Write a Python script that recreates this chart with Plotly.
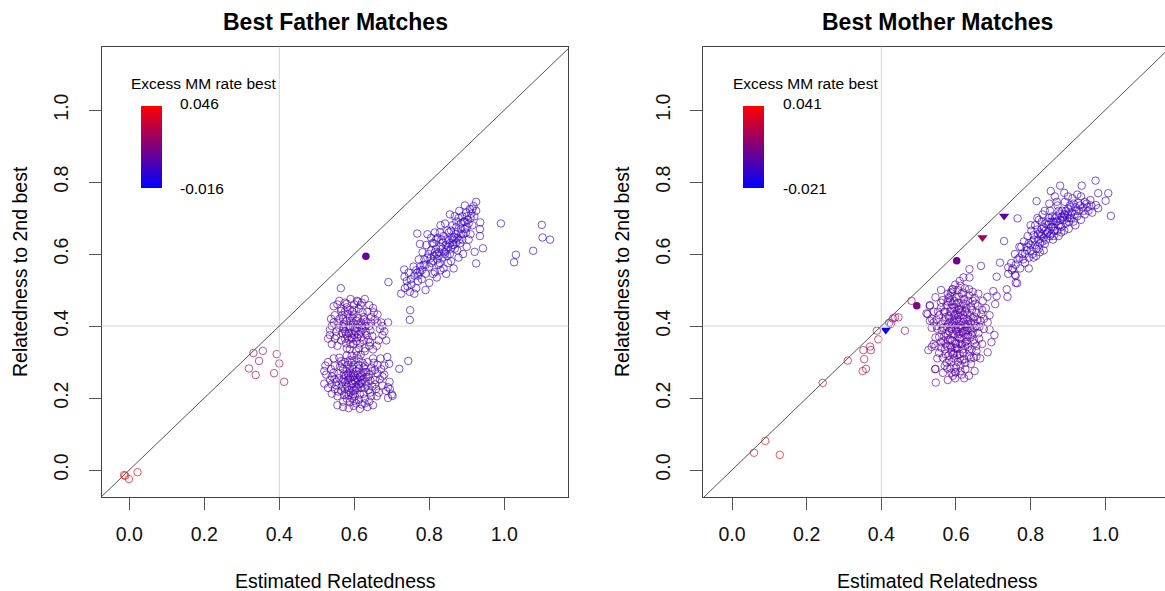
import plotly.graph_objects as go

W, H = 1165, 591

# ------------------------------------------------------------------
# Data: (estimated relatedness, relatedness to 2nd best)
# ------------------------------------------------------------------
tick_vals = [0.0, 0.2, 0.4, 0.6, 0.8, 1.0]
tick_text = ["0.0", "0.2", "0.4", "0.6", "0.8", "1.0"]

father_mm_range = [-0.016, 0.046]
mother_mm_range = [-0.021, 0.041]

# ---- Best Father Matches ----
father_red = [(-0.014, -0.014), (-0.011, -0.016), (-0.001, -0.025), (0.022, -0.006)]
father_red_mm = [0.046, 0.044, 0.045, 0.043]

father_pink = [(0.331, 0.325), (0.356, 0.331), (0.346, 0.303), (0.319, 0.282), (0.337, 0.264),
               (0.393, 0.322), (0.400, 0.296), (0.386, 0.269), (0.413, 0.245)]
father_pink_mm = [0.022, 0.021, 0.020, 0.023, 0.021, 0.019, 0.020, 0.022, 0.021]

father_low = [(0.600,0.250),(0.585,0.262),(0.612,0.238),(0.595,0.228),(0.620,0.262),(0.575,0.245),(0.630,0.245),(0.605,0.275),(0.590,0.215),(0.615,0.210),
              (0.560,0.255),(0.640,0.265),(0.570,0.280),(0.625,0.285),(0.598,0.292),(0.552,0.235),(0.648,0.232),(0.580,0.198),(0.628,0.198),(0.605,0.185),
              (0.545,0.270),(0.655,0.278),(0.565,0.220),(0.642,0.215),(0.588,0.305),(0.612,0.308),(0.535,0.250),(0.668,0.252),(0.575,0.300),(0.635,0.300),
              (0.598,0.178),(0.585,0.172),(0.620,0.182),(0.555,0.205),(0.660,0.205),(0.548,0.290),(0.662,0.292),(0.530,0.228),(0.675,0.235),(0.607,0.318),
              (0.592,0.240),(0.608,0.255),(0.618,0.228),(0.582,0.232),(0.597,0.268),(0.572,0.265),(0.632,0.272),(0.588,0.282),(0.622,0.250),(0.578,0.212),
              (0.540,0.212),(0.525,0.265),(0.685,0.220),(0.680,0.265),(0.650,0.310),(0.560,0.312),(0.570,0.190),(0.640,0.190),(0.690,0.200),(0.700,0.210),
              (0.523,0.290),(0.545,0.310),(0.555,0.180),(0.650,0.180),(0.615,0.170),(0.594,0.200),(0.603,0.222),(0.567,0.232),(0.637,0.258),(0.612,0.292),
              (0.655,0.250),(0.547,0.252),(0.583,0.250),(0.628,0.228),(0.602,0.205),(0.593,0.318),(0.520,0.240),(0.670,0.310),(0.694,0.245),(0.658,0.225),
              (0.610,0.265),(0.580,0.275),(0.625,0.212),(0.568,0.295),(0.645,0.285),(0.538,0.280),(0.672,0.280),(0.596,0.258),(0.617,0.242),(0.586,0.222),
              (0.603,0.245),(0.588,0.255),(0.618,0.270),(0.578,0.238),(0.633,0.235),(0.595,0.282),(0.608,0.228),(0.572,0.252),(0.643,0.248),(0.583,0.292),
              (0.622,0.298),(0.558,0.268),(0.662,0.268),(0.598,0.210),(0.612,0.195),(0.575,0.225),(0.638,0.222),(0.552,0.245),(0.588,0.188),(0.628,0.185),
              (0.565,0.302),(0.652,0.298),(0.540,0.260),(0.675,0.260),(0.600,0.305),(0.617,0.320),(0.580,0.318),(0.548,0.225),(0.665,0.215),(0.530,0.300),
              (0.595,0.240),(0.610,0.250),(0.590,0.270),(0.620,0.240),(0.600,0.262),(0.578,0.262),(0.632,0.258),(0.605,0.232),(0.585,0.208),(0.625,0.272),
              (0.562,0.288),(0.648,0.275),(0.557,0.218),(0.645,0.205),(0.570,0.175),(0.600,0.192),(0.635,0.175),(0.690,0.230),(0.680,0.290),(0.520,0.275),
              (0.592,0.298),(0.613,0.282),(0.568,0.245),(0.655,0.238),(0.540,0.238),(0.598,0.220),(0.615,0.258),(0.583,0.268),(0.628,0.290),(0.573,0.208)]
father_low_mm = 0.003

father_mid = [(0.600,0.390),(0.585,0.400),(0.612,0.378),(0.595,0.365),(0.620,0.402),(0.575,0.385),(0.630,0.385),(0.605,0.415),(0.590,0.350),(0.615,0.352),
              (0.560,0.395),(0.640,0.400),(0.570,0.420),(0.625,0.425),(0.598,0.432),(0.552,0.372),(0.648,0.372),(0.580,0.338),(0.628,0.338),(0.605,0.330),
              (0.545,0.410),(0.655,0.418),(0.565,0.360),(0.642,0.355),(0.588,0.445),(0.612,0.448),(0.535,0.390),(0.668,0.392),(0.575,0.440),(0.635,0.440),
              (0.600,0.460),(0.580,0.462),(0.620,0.465),(0.555,0.345),(0.660,0.345),(0.548,0.430),(0.662,0.432),(0.530,0.365),(0.675,0.375),(0.607,0.470),
              (0.592,0.380),(0.608,0.395),(0.618,0.368),(0.582,0.372),(0.597,0.408),(0.572,0.405),(0.632,0.412),(0.588,0.422),(0.622,0.390),(0.578,0.352),
              (0.540,0.350),(0.565,0.448),(0.640,0.458),(0.685,0.360),(0.690,0.410),(0.650,0.335),(0.590,0.475),(0.560,0.470),(0.628,0.475),(0.545,0.455),
              (0.610,0.405),(0.580,0.415),(0.625,0.360),(0.568,0.430),(0.645,0.425),(0.538,0.420),(0.672,0.410),(0.596,0.398),(0.617,0.382),(0.586,0.362),
              (0.603,0.385),(0.588,0.395),(0.618,0.410),(0.578,0.378),(0.633,0.375),(0.595,0.422),(0.608,0.368),(0.572,0.392),(0.643,0.388),(0.583,0.432),
              (0.622,0.438),(0.558,0.408),(0.662,0.408),(0.598,0.350),(0.612,0.338),(0.575,0.365),(0.638,0.362),(0.552,0.385),(0.588,0.335),(0.628,0.330),
              (0.565,0.442),(0.652,0.438),(0.540,0.400),(0.675,0.400),(0.600,0.445),(0.617,0.458),(0.580,0.452),(0.548,0.365),(0.665,0.360),(0.600,0.375),
              (0.590,0.410),(0.610,0.422),(0.620,0.395),(0.585,0.380),(0.630,0.400),(0.570,0.398),(0.595,0.440),(0.605,0.358),(0.560,0.420),(0.645,0.410),
              (0.575,0.465),(0.610,0.468),(0.535,0.375),(0.680,0.385),(0.555,0.460),(0.650,0.450),(0.592,0.368),(0.625,0.418),(0.568,0.380),(0.640,0.345)]
father_mid_mm = 0.004

father_high = [(0.725,0.490),(0.735,0.505),(0.748,0.495),(0.740,0.525),(0.752,0.515),(0.760,0.540),(0.745,0.548),(0.765,0.505),(0.770,0.525),(0.758,0.565),
               (0.775,0.550),(0.780,0.530),(0.785,0.570),(0.772,0.585),(0.790,0.545),(0.795,0.590),(0.782,0.605),(0.800,0.565),(0.805,0.610),(0.792,0.625),
               (0.810,0.580),(0.815,0.550),(0.812,0.630),(0.820,0.600),(0.825,0.570),(0.822,0.645),(0.830,0.620),(0.835,0.590),(0.828,0.660),(0.840,0.605),
               (0.845,0.640),(0.838,0.560),(0.850,0.620),(0.848,0.665),(0.855,0.600),(0.860,0.645),(0.858,0.580),(0.865,0.625),(0.862,0.680),(0.870,0.655),
               (0.875,0.610),(0.872,0.690),(0.880,0.640),(0.885,0.670),(0.878,0.590),(0.890,0.655),(0.895,0.690),(0.888,0.705),(0.900,0.675),(0.905,0.640),
               (0.898,0.715),(0.910,0.700),(0.915,0.680),(0.908,0.725),(0.920,0.705),(0.925,0.745),(0.918,0.733),(0.936,0.688),(0.935,0.650),(0.935,0.669),
               (0.943,0.616),(0.925,0.574),(0.921,0.606),(0.800,0.520),(0.810,0.545),(0.830,0.555),(0.850,0.575),(0.820,0.535),(0.790,0.500),(0.760,0.490),
               (0.842,0.685),(0.830,0.680),(0.815,0.660),(0.805,0.645),(0.795,0.655),(0.868,0.705),(0.855,0.710),(0.880,0.720),(0.895,0.735),(0.910,0.655),
               (0.900,0.620),(0.890,0.600),(0.865,0.560),(0.845,0.545),(0.812,0.595),(0.826,0.605),(0.836,0.632),(0.852,0.638),(0.866,0.648),(0.876,0.662),
               (0.803,0.588),(0.818,0.615),(0.844,0.625),(0.858,0.615),(0.872,0.632),(0.884,0.685),(0.898,0.660),(0.787,0.585),(0.776,0.565),(0.768,0.548),
               (0.768,0.657),(0.775,0.628),
               (0.805,0.575),(0.815,0.605),(0.825,0.595),(0.835,0.615),(0.845,0.610),(0.855,0.630),(0.865,0.640),(0.875,0.645),(0.885,0.655),(0.895,0.670),
               (0.822,0.585),(0.832,0.640),(0.842,0.600),(0.852,0.660),(0.862,0.625),(0.872,0.675),(0.882,0.630),(0.892,0.690),(0.902,0.695),(0.912,0.712),
               (0.790,0.570),(0.780,0.555),(0.770,0.540),(0.798,0.600),(0.808,0.630),(0.828,0.575),(0.848,0.595),(0.868,0.615),(0.888,0.640),(0.905,0.685),
               (0.750,0.530),(0.742,0.510),(0.765,0.555),(0.818,0.640),(0.838,0.650),(0.858,0.665),(0.878,0.700),(0.900,0.705),(0.915,0.725),(0.925,0.720)]
father_high_mm = -0.002

father_stray = [(0.564,0.505),(0.691,0.522),(0.733,0.557),(0.734,0.537),(0.749,0.444),(0.748,0.417),(0.744,0.303),(0.720,0.281),
                (0.688,0.314),(0.693,0.295),(0.702,0.206),(0.695,0.225),
                (1.100,0.681),(1.102,0.646),(1.122,0.640),(1.077,0.609),(1.031,0.598),(1.026,0.577),(0.991,0.685)]
father_stray_mm = -0.004

father_solid = [(0.631, 0.594)]
father_solid_mm = [0.010]

# ---- Best Mother Matches ----
mother_low = [(0.059,0.048),(0.089,0.081),(0.128,0.042),(0.243,0.242),(0.310,0.304),
              (0.352,0.333),(0.370,0.343),(0.372,0.333),(0.354,0.308),(0.350,0.275),(0.359,0.281),
              (0.388,0.387),(0.392,0.363),(0.421,0.409),(0.431,0.421),(0.437,0.424),(0.446,0.424),
              (0.426,0.406),(0.463,0.387),(0.481,0.470)]
mother_low_mm = [0.041,0.039,0.040,0.034,0.027,
                 0.024,0.022,0.021,0.025,0.026,0.024,
                 0.023,0.024,0.014,0.016,0.015,0.017,
                 0.013,0.022,0.017]

mother_blob = [(0.598,0.272),(0.585,0.283),(0.612,0.290),(0.625,0.280),(0.575,0.298),(0.605,0.300),(0.640,0.295),(0.592,0.262),
               (0.565,0.312),(0.580,0.318),(0.595,0.310),(0.610,0.322),(0.622,0.308),(0.635,0.318),(0.648,0.312),(0.655,0.330),(0.570,0.335),(0.588,0.328),(0.602,0.340),(0.618,0.335),(0.632,0.342),(0.555,0.325),
               (0.560,0.355),(0.572,0.350),(0.585,0.362),(0.598,0.352),(0.610,0.365),(0.625,0.355),(0.638,0.368),(0.650,0.352),(0.662,0.365),(0.545,0.368),(0.578,0.375),(0.592,0.378),(0.605,0.372),(0.618,0.380),(0.632,0.375),(0.645,0.382),(0.568,0.372),(0.655,0.345),
               (0.550,0.392),(0.562,0.388),(0.575,0.398),(0.588,0.392),(0.600,0.402),(0.612,0.395),(0.625,0.405),(0.638,0.395),(0.650,0.408),(0.663,0.398),(0.675,0.392),(0.540,0.410),(0.570,0.415),(0.583,0.410),(0.596,0.418),(0.608,0.412),(0.620,0.420),(0.633,0.415),(0.645,0.422),(0.658,0.418),
               (0.555,0.430),(0.568,0.438),(0.580,0.428),(0.593,0.440),(0.605,0.432),(0.617,0.442),(0.630,0.435),(0.643,0.445),(0.655,0.438),(0.668,0.432),(0.560,0.452),(0.575,0.458),(0.588,0.450),(0.600,0.460),(0.613,0.455),(0.626,0.462),(0.640,0.455),(0.652,0.462),
               (0.565,0.472),(0.580,0.478),(0.595,0.470),(0.608,0.482),(0.622,0.475),(0.636,0.485),(0.650,0.478),(0.590,0.495),(0.605,0.500),(0.620,0.492),(0.578,0.490),(0.635,0.502),(0.612,0.512),(0.598,0.515),
               (0.530,0.458),(0.524,0.433),(0.530,0.415),(0.548,0.417),(0.526,0.333),(0.535,0.342),(0.545,0.281),(0.546,0.243),(0.599,0.271),(0.577,0.282),(0.544,0.280),(0.615,0.265),(0.703,0.375),(0.685,0.327),(0.591,0.502),(0.521,0.435),
               (0.680,0.450),(0.672,0.470),(0.660,0.490),(0.545,0.480),(0.535,0.395),(0.540,0.350),(0.665,0.310),(0.670,0.350),(0.685,0.410),(0.690,0.430),
               (0.603,0.385),(0.615,0.392),(0.590,0.405),(0.627,0.398),(0.582,0.385),(0.607,0.425),(0.620,0.430),(0.595,0.428),(0.630,0.388),(0.612,0.350),(0.597,0.338),(0.625,0.345),(0.585,0.345),
               (0.640,0.408),(0.572,0.425),(0.608,0.445),(0.585,0.468),(0.628,0.450),(0.650,0.425),(0.560,0.405),(0.603,0.320),(0.588,0.300),(0.617,0.305),(0.642,0.335),(0.572,0.322),
               (0.600,0.390),(0.612,0.402),(0.588,0.398),(0.625,0.388),(0.595,0.375),(0.608,0.378),(0.620,0.412),(0.580,0.405),(0.632,0.405),(0.603,0.418),
               (0.590,0.360),(0.615,0.365),(0.628,0.370),(0.578,0.360),(0.640,0.390),(0.565,0.395),(0.650,0.395),(0.598,0.432),(0.612,0.438),(0.585,0.440),
               (0.625,0.440),(0.570,0.440),(0.638,0.430),(0.600,0.350),(0.588,0.340),(0.620,0.325),(0.635,0.332),(0.575,0.345),(0.648,0.360),(0.560,0.340),
               (0.605,0.465),(0.590,0.460),(0.620,0.462),(0.632,0.470),(0.578,0.468),(0.645,0.470),(0.560,0.465),(0.600,0.480),(0.615,0.490),(0.585,0.482),
               (0.595,0.325),(0.610,0.310),(0.582,0.305),(0.625,0.298),(0.570,0.290),(0.600,0.285),(0.612,0.275),(0.588,0.270),(0.640,0.310),(0.655,0.315),
               (0.660,0.380),(0.665,0.415),(0.670,0.445),(0.658,0.455),(0.675,0.420),(0.548,0.400),(0.552,0.440),(0.545,0.345),(0.555,0.370),(0.550,0.310),
               (0.606,0.396),(0.594,0.412),(0.618,0.385),(0.582,0.420),(0.630,0.420),(0.608,0.448),(0.596,0.452),(0.572,0.380),(0.642,0.375),(0.604,0.336),
               (0.616,0.350),(0.592,0.322),(0.628,0.358),(0.566,0.358),(0.654,0.400),(0.586,0.492),(0.624,0.505),(0.610,0.525),(0.598,0.255),(0.578,0.250),
               (0.635,0.262),(0.622,0.255),(0.565,0.270),(0.650,0.275),(0.690,0.390),(0.695,0.355),(0.540,0.440),(0.535,0.420),(0.560,0.500),(0.645,0.495)]
mother_blob_mm = 0.000

mother_high = [(0.740,0.545),(0.752,0.560),(0.760,0.540),(0.748,0.575),(0.765,0.585),(0.772,0.560),(0.758,0.600),(0.778,0.600),(0.785,0.575),(0.770,0.620),
               (0.790,0.610),(0.795,0.590),(0.782,0.635),(0.800,0.625),(0.805,0.600),(0.792,0.650),(0.810,0.640),(0.815,0.615),(0.802,0.665),(0.820,0.655),
               (0.825,0.630),(0.812,0.680),(0.830,0.670),(0.835,0.645),(0.822,0.695),(0.840,0.685),(0.845,0.660),(0.832,0.710),(0.850,0.700),(0.855,0.675),
               (0.842,0.640),(0.860,0.690),(0.865,0.665),(0.852,0.720),(0.870,0.705),(0.875,0.680),(0.862,0.650),(0.880,0.695),(0.885,0.720),(0.872,0.735),
               (0.890,0.710),(0.895,0.685),(0.882,0.660),(0.900,0.725),(0.905,0.700),(0.892,0.745),(0.910,0.715),(0.915,0.690),(0.902,0.670),(0.920,0.730),
               (0.925,0.705),(0.912,0.755),(0.930,0.720),(0.935,0.695),(0.940,0.730),(0.945,0.710),(0.950,0.740),(0.955,0.720),(0.960,0.750),(0.965,0.715),
               (0.974,0.804),(1.008,0.769),(0.981,0.769),(1.015,0.706),(0.937,0.790),(0.879,0.790),(0.854,0.775),(0.816,0.747),(0.975,0.736),(0.981,0.727),(1.001,0.748),
               (0.795,0.630),(0.808,0.652),(0.828,0.655),(0.848,0.682),(0.868,0.690),(0.888,0.702),(0.908,0.730),(0.928,0.742),(0.818,0.668),(0.838,0.628),
               (0.858,0.705),(0.878,0.712),(0.898,0.700),(0.918,0.710),(0.780,0.585),(0.775,0.620),(0.800,0.610),(0.830,0.690),(0.860,0.640),(0.890,0.665),
               (0.920,0.680),(0.945,0.745),(0.900,0.760),(0.870,0.745),(0.850,0.740),(0.760,0.520),(0.795,0.560),(0.825,0.605),(0.815,0.595),(0.855,0.655),(0.875,0.650),
               (0.820,0.640),(0.830,0.650),(0.840,0.665),(0.850,0.665),(0.860,0.675),(0.870,0.690),(0.880,0.680),(0.890,0.695),(0.900,0.710),(0.910,0.700),
               (0.825,0.660),(0.835,0.675),(0.845,0.690),(0.855,0.690),(0.865,0.700),(0.875,0.720),(0.885,0.705),(0.895,0.720),(0.905,0.735),(0.915,0.740),
               (0.805,0.635),(0.790,0.620),(0.785,0.600),(0.770,0.590),(0.760,0.570),(0.750,0.555),(0.812,0.625),(0.822,0.615),(0.832,0.635),(0.842,0.655),
               (0.852,0.650),(0.862,0.665),(0.872,0.665),(0.882,0.675),(0.892,0.710),(0.902,0.690),(0.922,0.720),(0.932,0.735),(0.942,0.720),(0.952,0.730),
               (0.962,0.735),(0.935,0.760),(0.925,0.765),(0.890,0.770),(0.865,0.760),(0.838,0.720),(0.818,0.700),(0.800,0.680),(0.808,0.590),(0.835,0.610)]
mother_high_mm = -0.006

mother_stray = [(0.765,0.699),(0.729,0.636),(0.667,0.567),(0.636,0.558),(0.620,0.535),(0.636,0.535),(0.718,0.576),(0.709,0.537),
                (0.740,0.563),(0.764,0.519),(0.758,0.542),(0.736,0.502),(0.738,0.481),(0.700,0.497),(0.709,0.483),(0.705,0.461),
                (0.684,0.481),(0.530,0.456),(0.591,0.502)]
mother_stray_mm = -0.003

mother_solid_circle = [(0.495, 0.456), (0.602, 0.581)]
mother_solid_circle_mm = [0.010, 0.006]
mother_solid_tri = [(0.412, 0.389), (0.671, 0.646), (0.729, 0.706)]
mother_solid_tri_mm = [-0.020, 0.018, 0.001]

# ------------------------------------------------------------------
def collect(groups):
    xs, ys, cs = [], [], []
    for pts, mm in groups:
        for i, (x, y) in enumerate(pts):
            xs.append(x)
            ys.append(y)
            cs.append(mm[i] if isinstance(mm, list) else mm)
    return xs, ys, cs

FONT = "Liberation Sans, Arial, Helvetica, sans-serif"
fig = go.Figure()

def add_panel(xa, ya, cax, open_groups, solid_circ, solid_tri):
    x, y, c = collect(open_groups)
    fig.add_trace(go.Scatter(
        x=x, y=y, mode="markers", xaxis=xa, yaxis=ya, showlegend=False, hoverinfo="skip",
        marker=dict(symbol="circle-open", size=7.5, color=c, coloraxis=cax,
                    opacity=0.66, line=dict(width=1))))
    if solid_circ:
        x, y, c = collect([solid_circ])
        fig.add_trace(go.Scatter(
            x=x, y=y, mode="markers", xaxis=xa, yaxis=ya, showlegend=False,
            marker=dict(symbol="circle", size=7.5, color=c, coloraxis=cax)))
    if solid_tri:
        x, y, c = collect([solid_tri])
        fig.add_trace(go.Scatter(
            x=x, y=y, mode="markers", xaxis=xa, yaxis=ya, showlegend=False,
            marker=dict(symbol="triangle-down", size=9, color=c, coloraxis=cax)))

add_panel("x", "y", "coloraxis",
          [(father_low, father_low_mm), (father_mid, father_mid_mm), (father_high, father_high_mm),
           (father_stray, father_stray_mm), (father_pink, father_pink_mm), (father_red, father_red_mm)],
          (father_solid, father_solid_mm), None)
add_panel("x2", "y2", "coloraxis2",
          [(mother_blob, mother_blob_mm), (mother_high, mother_high_mm), (mother_stray, mother_stray_mm),
           (mother_low, mother_low_mm)],
          (mother_solid_circle, mother_solid_circle_mm), (mother_solid_tri, mother_solid_tri_mm))

# ------------------------------------------------------------------
def px_x(p):
    return p / W

def px_y(p):
    return 1 - p / H

axis_common = dict(tickvals=tick_vals, ticktext=tick_text, ticks="outside", ticklen=12,
                   tickwidth=1, tickcolor="#555", showline=True, linecolor="#444", linewidth=1,
                   showgrid=False, zeroline=False, tickfont=dict(family=FONT, size=19.5, color="#111"))

ydom = [px_y(497), px_y(46.7)]
yrange = [-0.075, 1.176]

fig.update_layout(
    width=W, height=H, margin=dict(l=0, r=0, t=0, b=0),
    paper_bgcolor="white", plot_bgcolor="white",
    xaxis=dict(domain=[px_x(101.7), px_x(568.3)], range=[-0.0736, 1.1707], anchor="y",
               mirror=True, ticklabelstandoff=8, **axis_common),
    yaxis=dict(domain=ydom, range=yrange, anchor="x", mirror=True, tickangle=-90,
               ticklabelstandoff=13, **axis_common),
    xaxis2=dict(domain=[px_x(703.3), 1.0], range=[-0.0769, 1.16], anchor="y2",
                mirror=True, ticklabelstandoff=8, **axis_common),
    yaxis2=dict(domain=ydom, range=yrange, anchor="x2", mirror=False, tickangle=-90,
                ticklabelstandoff=13, **axis_common),
    coloraxis=dict(colorscale=[[0, "rgb(0,0,255)"], [1, "rgb(255,0,0)"]],
                   cmin=father_mm_range[0], cmax=father_mm_range[1],
                   colorbar=dict(x=px_x(140.7), xanchor="left", y=px_y(146.9), yanchor="middle",
                                 len=82.3, lenmode="pixels", thickness=20.6, thicknessmode="pixels",
                                 xpad=0, ypad=0, outlinewidth=0, borderwidth=0,
                                 showticklabels=False, ticks="")),
    coloraxis2=dict(colorscale=[[0, "rgb(0,0,255)"], [1, "rgb(255,0,0)"]],
                    cmin=mother_mm_range[0], cmax=mother_mm_range[1],
                    colorbar=dict(x=px_x(743.3), xanchor="left", y=px_y(146.9), yanchor="middle",
                                  len=82.3, lenmode="pixels", thickness=20.6, thicknessmode="pixels",
                                  xpad=0, ypad=0, outlinewidth=0, borderwidth=0,
                                  showticklabels=False, ticks="")),
)

shapes = []
for xr, yr in (("x", "y"), ("x2", "y2")):
    shapes.append(dict(type="line", xref=xr, yref=yr, x0=0.4, x1=0.4, y0=-0.2, y1=1.3,
                       line=dict(color="#d4d4d4", width=1)))
    shapes.append(dict(type="line", xref=xr, yref=yr, x0=-0.2, x1=1.3, y0=0.4, y1=0.4,
                       line=dict(color="#d4d4d4", width=1)))
    shapes.append(dict(type="line", xref=xr, yref=yr, x0=-0.2, x1=1.3, y0=-0.2, y1=1.3,
                       line=dict(color="#555", width=1)))
fig.update_layout(shapes=shapes)

ann = []
def text(s, x, y, size, xanchor="center", yanchor="middle", bold=False, angle=0):
    ann.append(dict(text=f"<b>{s}</b>" if bold else s, x=px_x(x), y=px_y(y), xref="paper", yref="paper",
                    showarrow=False, xanchor=xanchor, yanchor=yanchor, textangle=angle,
                    font=dict(family=FONT, size=size, color="#000")))

text("Best Father Matches", 335, 22, 23, bold=True)
text("Best Mother Matches", 937, 22, 23, bold=True)
text("Estimated Relatedness", 335, 581, 19.5)
text("Estimated Relatedness", 937, 581, 19.5)
text("Relatedness to 2nd best", 20, 272, 19.5, angle=-90)
text("Relatedness to 2nd best", 622, 272, 19.5, angle=-90)

text("Excess MM rate best", 203.3, 83, 15.5)
text(f"{father_mm_range[1]:.3f}", 178, 103.5, 15.5, xanchor="left")
text(f"{father_mm_range[0]:.3f}", 178, 188, 15.5, xanchor="left")
text("Excess MM rate best", 805.5, 83, 15.5)
text(f"{mother_mm_range[1]:.3f}", 781, 103.5, 15.5, xanchor="left")
text(f"{mother_mm_range[0]:.3f}", 781, 188, 15.5, xanchor="left")
fig.update_layout(annotations=ann)

fig.write_html("out.html", config={"displayModeBar": False},
               post_script="document.body.style.margin='0px';")
